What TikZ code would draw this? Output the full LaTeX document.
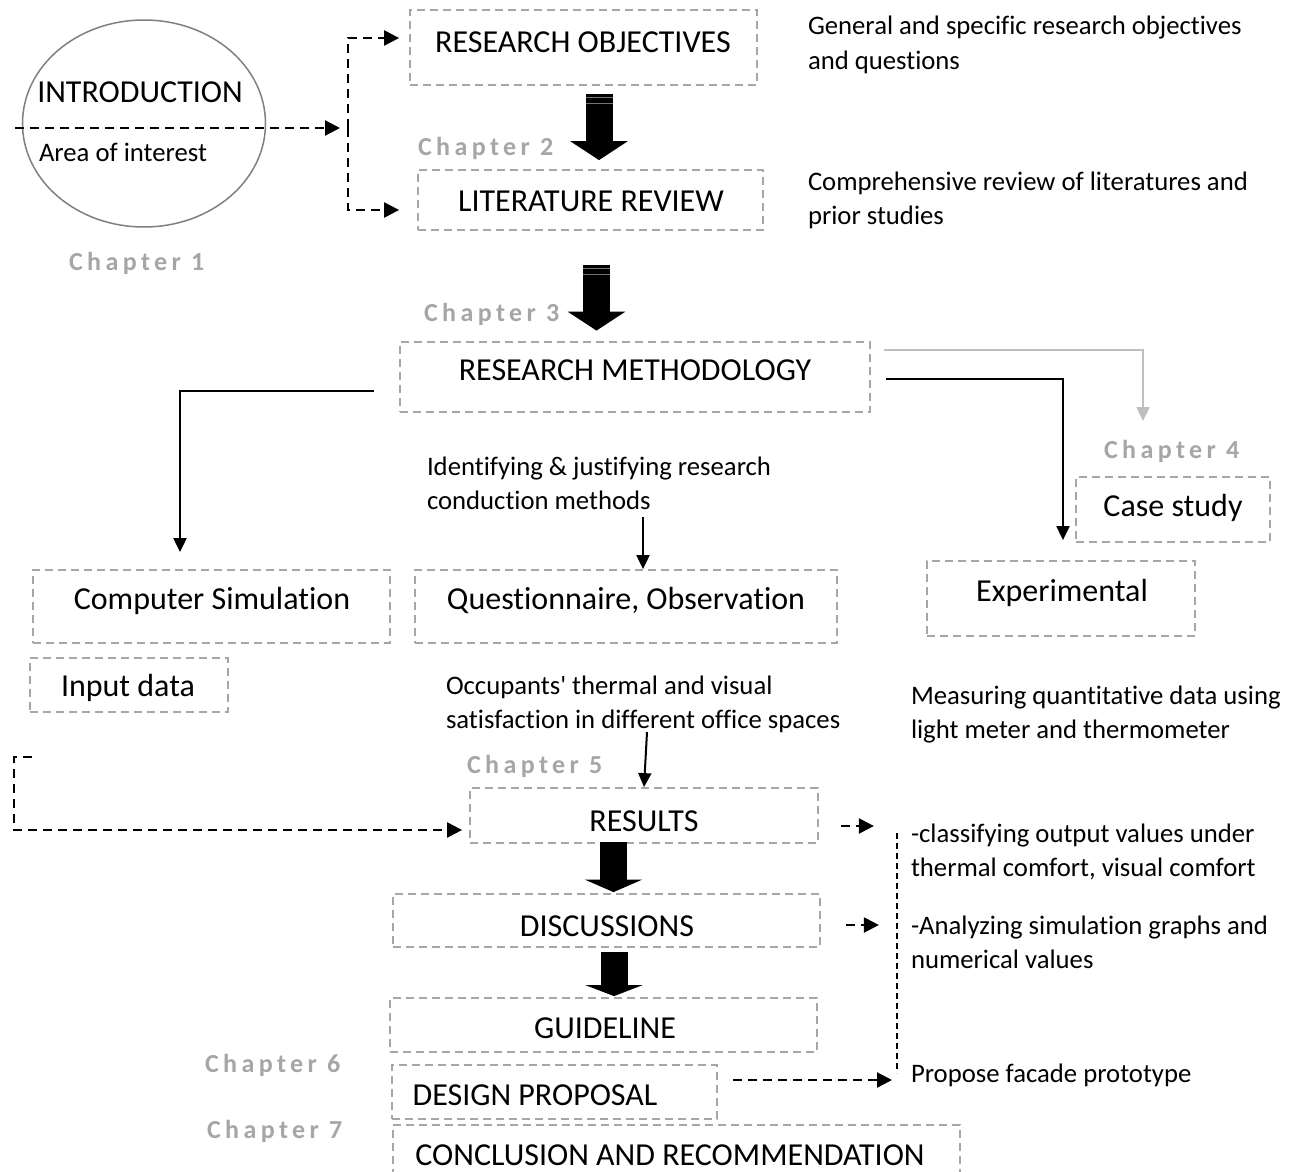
\documentclass[tikz,border=0pt]{standalone}
\usepackage{fontspec}
\setmainfont{Carlito}[Ligatures=NoCommon]
\newfontfamily\chapfont[LetterSpace=17]{Carlito}
\usetikzlibrary{arrows.meta, positioning, shapes.geometric, calc}
\definecolor{cboxgrey}{HTML}{A6A6A6}
\definecolor{cchap}{HTML}{A6A6A6}
\definecolor{cellip}{HTML}{7F7F7F}
\definecolor{cpale}{HTML}{BFBFBF}
\tikzset{
  every picture/.style={x=1pt, y=-1pt, line width=2pt},
  box/.style={draw=cboxgrey, dash pattern=on 8pt off 5pt, line width=1.8pt, inner sep=0pt},
  boxtxt/.style={font=\fontsize{32}{38}\selectfont, inner sep=0pt},
  chap/.style={font=\chapfont\bfseries\fontsize{26}{30}\selectfont, text=cchap, anchor=base west, inner sep=0pt},
  note/.style={font=\fontsize{26.7}{34.5}\selectfont, align=left, anchor=base west, inner sep=0pt},
  dasharr/.style={-{Triangle[length=15pt, width=15pt]}, dash pattern=on 9pt off 6pt, line width=2.2pt},
  arr/.style={-{Triangle[length=14pt, width=13pt]}, line width=2pt},
  blk/.style={-{Triangle[length=#1, width=57pt]}, line width=27pt},
  blk/.default=18pt,
  stripe/.style={draw=black!55, line width=1pt},
}
\begin{document}
\begin{tikzpicture}
  \useasboundingbox (0,0) rectangle (1298,1172);
  % introduction
  \node[draw=cellip, ellipse, line width=1.5pt, minimum width=243, minimum height=207] (intro) at (144,123.5) {};
  \node[boxtxt] (introT) at (140,92) {INTRODUCTION};
  \node[note, anchor=west] (introN) at (38,152) {Area of interest};
  \node[chap] (ch1) at (68,270) {Chapter 1};
  % boxes
  \node[box, minimum width=347, minimum height=75] (obj) at (583.5,47.5) {};
  \node[boxtxt] (objT) at (583,42) {RESEARCH OBJECTIVES};
  \node[box, minimum width=345, minimum height=60] (lit) at (590.5,200) {};
  \node[boxtxt] (litT) at (591,201) {LITERATURE REVIEW};
  \node[box, minimum width=470, minimum height=70] (meth) at (635,377) {};
  \node[boxtxt] (methT) at (635,370) {RESEARCH METHODOLOGY};
  \node[box, minimum width=194, minimum height=65] (case) at (1173,509.5) {};
  \node[boxtxt] (caseT) at (1173,508) {Case study};
  \node[box, minimum width=357, minimum height=73] (comp) at (211.5,606.5) {};
  \node[boxtxt] (compT) at (212,601) {Computer Simulation};
  \node[box, minimum width=422, minimum height=73] (quest) at (626,606.5) {};
  \node[boxtxt] (questT) at (626,601) {Questionnaire, Observation};
  \node[box, minimum width=268, minimum height=75] (exper) at (1061,598.5) {};
  \node[boxtxt] (experT) at (1062,593) {Experimental};
  \node[box, minimum width=198, minimum height=54] (input) at (129,685) {};
  \node[boxtxt] (inputT) at (128,688) {Input data};
  \node[box, minimum width=348, minimum height=55] (res) at (644,815.5) {};
  \node[boxtxt] (resT) at (644,821) {RESULTS};
  \node[box, minimum width=427, minimum height=53] (disc) at (606.5,920.5) {};
  \node[boxtxt] (discT) at (607,926) {DISCUSSIONS};
  \node[box, minimum width=427, minimum height=54] (guide) at (603.5,1025) {};
  \node[boxtxt] (guideT) at (605,1028) {GUIDELINE};
  \node[box, minimum width=325, minimum height=54] (design) at (554.5,1092) {};
  \node[boxtxt] (designT) at (535,1095) {DESIGN PROPOSAL};
  \node[box, minimum width=567, minimum height=70] (concl) at (676.5,1160) {};
  \node[boxtxt] (conclT) at (670,1155) {CONCLUSION AND RECOMMENDATION};
  % chapter labels
  \node[chap] (ch2) at (417,155) {Chapter 2};
  \node[chap] (ch3) at (423,321) {Chapter 3};
  \node[chap] (ch4) at (1103,458) {Chapter 4};
  \node[chap] (ch5) at (466,773) {Chapter 5};
  \node[chap] (ch6) at (204,1072) {Chapter 6};
  \node[chap] (ch7) at (206,1138) {Chapter 7};
  % notes (base = last line)
  \node[note] (objN) at (807,69.5) {General and specific research objectives\\and questions};
  \node[note] (litN) at (807,224.5) {Comprehensive review of literatures and\\prior studies};
  \node[note] (methN) at (426,509.5) {Identifying \& justifying research\\conduction methods};
  \node[note] (questN) at (445,728.5) {Occupants\textquotesingle\ thermal and visual\\satisfaction in different office spaces};
  \node[note] (experN) at (910,738.5) {Measuring quantitative data using\\light meter and thermometer};
  \node[note] (resN) at (910,876.5) {-classifying output values under\\thermal comfort, visual comfort};
  \node[note] (discN) at (910,968.5) {-Analyzing simulation graphs and\\numerical values};
  \node[note] (designN) at (910,1082) {Propose facade prototype};
  % dashed connectors
  \coordinate (brMid) at (348,128);
  \coordinate (lTop) at (32,757);
  \coordinate (lCorner) at (14,830);
  \coordinate (vTop) at (897,833);
  \coordinate (vBot) at (897,1080);
  \draw[dasharr, shorten >=8pt] ([xshift=-7pt,yshift=-4.5pt]intro.west) -- (brMid);
  \draw[dasharr, shorten >=10pt] (brMid) |- ([yshift=9.5pt]obj.west);
  \draw[dasharr, shorten >=18pt] (brMid) |- ([yshift=-10pt]lit.west);
  \draw[dasharr, shorten >=7pt] (lTop) -| (lCorner) -- ([yshift=-14.5pt]res.west);
  \draw[dasharr] ([xshift=22pt,yshift=-10.5pt]res.east) -- ([xshift=55pt,yshift=-10.5pt]res.east);
  \draw[dasharr] ([xshift=25pt,yshift=-4.5pt]disc.east) -- ([xshift=58pt,yshift=-4.5pt]disc.east);
  \draw[dasharr, shorten >=5pt] ([xshift=15pt,yshift=12pt]design.east) -- (vBot);
  \draw[line width=2pt, dash pattern=on 6pt off 4pt] (vTop) -- ([yshift=7pt]vBot);
  % solid connectors
  \draw[arr] ([xshift=-25pt,yshift=-14pt]meth.west) -| ([xshift=-31.5pt,yshift=17pt]comp.north);
  \draw[arr] ([xshift=15pt,yshift=-2pt]meth.east) -| ([xshift=2pt,yshift=20pt]exper.north);
  \draw[arr, draw=cpale, -{Triangle[length=14pt, width=13pt, fill=cpale]}] ([xshift=13pt,yshift=27pt]meth.east) -| ([xshift=-30pt,yshift=55pt]case.north);
  \draw[arr] ([xshift=17pt,yshift=52pt]quest.north) -- ([xshift=17pt]quest.north);
  \draw[arr] ([xshift=3pt,yshift=55pt]res.north) -- (res.north);
  % block arrows
  \draw[blk=19pt] ([xshift=15.5pt,yshift=-8pt]obj.south) -- ([xshift=8.5pt,yshift=9pt]lit.north);
  \draw[blk=19pt] ([xshift=6pt,yshift=-34pt]lit.south) -- ([xshift=-38.5pt,yshift=10.5pt]meth.north);
  \draw[blk=12.5pt] ([xshift=-30.5pt,yshift=2pt]res.south) -- ([xshift=7pt,yshift=1pt]disc.north);
  \draw[blk=11pt] ([xshift=7.5pt,yshift=-4pt]disc.south) -- ([xshift=10.5pt,yshift=1pt]guide.north);
  \foreach \s in {12,18}
    \draw[stripe] ([xshift=2pt,yshift=-\s pt]obj.south) -- ++(27,0);
  \foreach \s in {38,44}
    \draw[stripe] ([xshift=-7.5pt,yshift=-\s pt]lit.south) -- ++(27,0);
\end{tikzpicture}
\end{document}
